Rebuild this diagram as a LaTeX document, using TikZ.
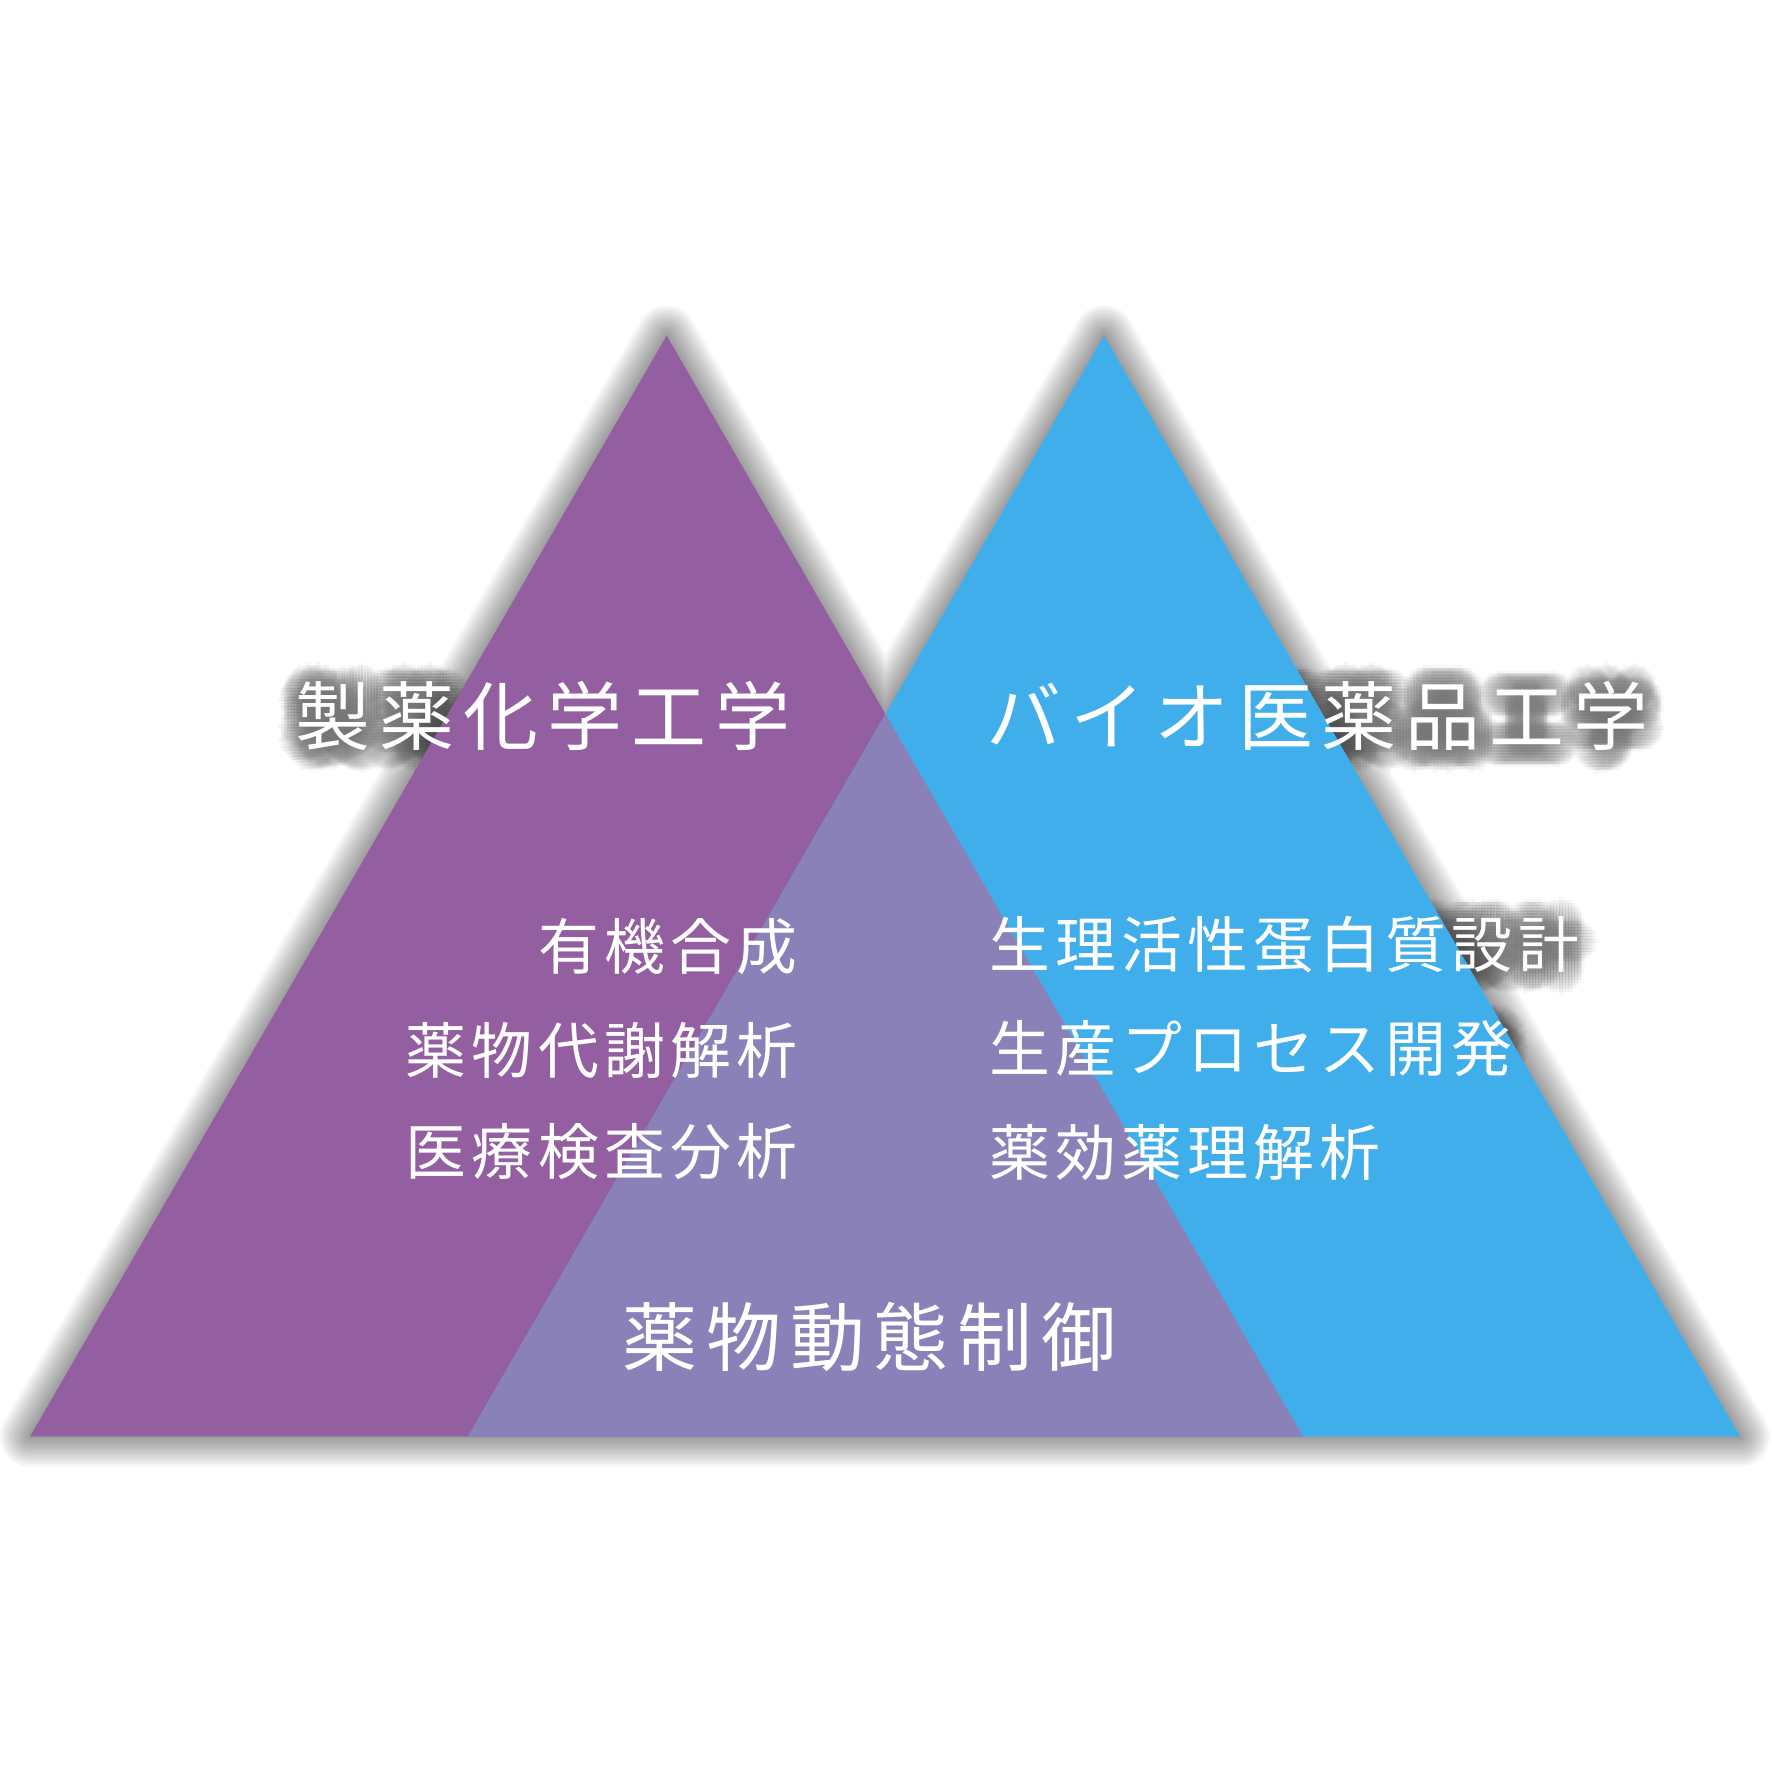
\documentclass[tikz,border=0pt]{standalone}
\usepackage{fontspec}
\newfontfamily\jpfont{Noto Sans CJK JP}
\definecolor{purp}{HTML}{935FA0}
\definecolor{ovl}{HTML}{8A81B9}
\definecolor{blu}{HTML}{40AEEA}
\makeatletter
\newcommand\trk[2]{\def\trk@k{#1}\trk@loop#2\relax}
\def\trk@loop#1#2{#1\ifx\relax#2\expandafter\@gobble\else\kern\trk@k\relax\expandafter\@firstofone\fi{\trk@loop#2}}
\makeatother
\newcommand\shcopies[4]{%
  \begin{scope}[transparency group, opacity=0.55]
  \foreach \dx in {-21,-18,...,21}{%
    \foreach \dy in {-21,-18,...,21}{%
      \pgfmathtruncatemacro\rr{\dx*\dx+\dy*\dy}%
      \ifnum\rr<442\relax
        \node[#3,anchor=#2,text=black,opacity=0.06,name=#1sh\dx y\dy] at ([shift={(\dx,\dy+2)}]#1) {#4};%
      \fi}}
  \end{scope}}
\begin{document}
\begin{tikzpicture}[x=0.01cm,y=-0.01cm,
  title/.style={font=\jpfont\fontsize{21.3pt}{26pt}\selectfont, inner sep=0pt, text=white},
  item/.style={font=\jpfont\fontsize{17.3pt}{21pt}\selectfont, inner sep=0pt, text=white},
  trishadow/.style={line join=round, draw=black, draw opacity=0.036}]
\useasboundingbox[fill=white] (0,0) rectangle (1772,1772);
% triangle corners
\coordinate (La) at (666.7,335.5);
\coordinate (Lbl) at (30,1436.5);
\coordinate (Lbr) at (1303,1436.5);
\coordinate (Ra) at (1104,335.5);
\coordinate (Rbl) at (468,1436.5);
\coordinate (Rbr) at (1740,1436.5);
\coordinate (X) at (intersection of La--Lbr and Ra--Rbl);
% text anchors
\coordinate (c1) at (543,716);
\coordinate (c2) at (1317.5,716);
\coordinate (l1) at (798,947);
\coordinate (l2) at (798,1050);
\coordinate (l3) at (798,1152);
\coordinate (r1) at (988.5,945);
\coordinate (r2) at (988.5,1049);
\coordinate (r3) at (988.5,1152);
\coordinate (c3) at (869.5,1337);
% shadow of the two triangles (outline of their union)
\foreach \w in {5,10,...,60}{
  \draw[trishadow, line width=\w*0.2845pt, shift={(0,3)}] (Lbl) -- (La) -- (X) -- (Ra) -- (Rbr) -- cycle;
}
% text shadows
\shcopies{c1}{center}{title}{\trk{2.56pt}{製薬化学工学}}
\shcopies{c2}{center}{title}{\trk{2.56pt}{バイオ医薬品工学}}
\shcopies{r1}{west}{item}{\trk{1.5pt}{生理活性蛋白質設計}}
\shcopies{r2}{west}{item}{\trk{1.5pt}{生産プロセス開発}}
% triangles
\fill[purp] (La) -- (Lbl) -- (Lbr) -- cycle;
\fill[blu] (Ra) -- (Rbl) -- (Rbr) -- cycle;
\fill[ovl] (Rbl) -- (X) -- (Lbr) -- cycle;
% texts
\node[title, anchor=center] (t1) at (c1) {\trk{2.56pt}{製薬化学工学}};
\node[title, anchor=center] (t2) at (c2) {\trk{2.56pt}{バイオ医薬品工学}};
\node[item, anchor=east] (a1) at (l1) {\trk{1.5pt}{有機合成}};
\node[item, anchor=east] (a2) at (l2) {\trk{1.5pt}{薬物代謝解析}};
\node[item, anchor=east] (a3) at (l3) {\trk{1.5pt}{医療検査分析}};
\node[item, anchor=west] (b1) at (r1) {\trk{1.5pt}{生理活性蛋白質設計}};
\node[item, anchor=west] (b2) at (r2) {\trk{1.5pt}{生産プロセス開発}};
\node[item, anchor=west] (b3) at (r3) {\trk{1.5pt}{薬効薬理解析}};
\node[title, anchor=center] (t3) at (c3) {\trk{2.56pt}{薬物動態制御}};
\end{tikzpicture}
\end{document}
